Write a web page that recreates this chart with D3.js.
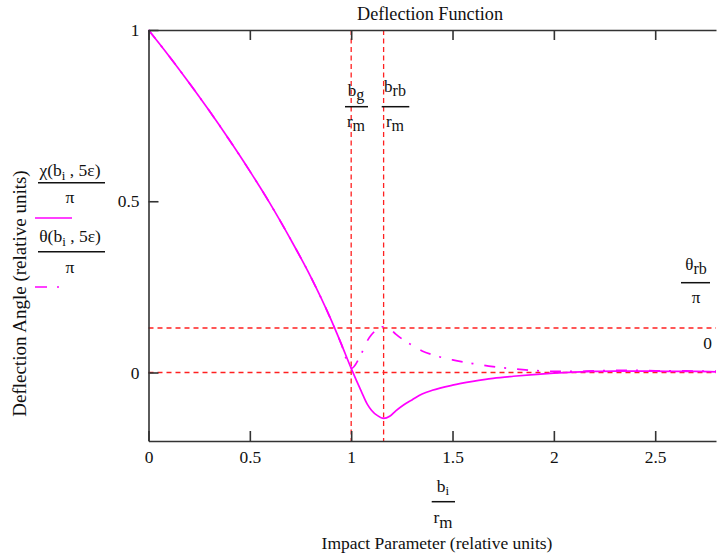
<!DOCTYPE html>
<html>
<head>
<meta charset="utf-8">
<script src="https://cdn.jsdelivr.net/npm/d3@7"></script>
<style>
  html, body { margin: 0; padding: 0; background: #fff; }
  svg { display: block; }
  text { font-family: "Liberation Serif", "Times New Roman", serif; fill: #111; }
</style>
</head>
<body>
<svg id="chart" width="717" height="559"></svg>
<script>
// ---- data ----
const bValues = [0, 0.1, 0.2, 0.3, 0.4, 0.5, 0.6, 0.7, 0.8, 0.9, 0.95, 1.0, 1.05, 1.08, 1.1, 1.13, 1.16, 1.19, 1.22, 1.26, 1.3, 1.35, 1.4, 1.5, 1.6, 1.7, 1.8, 1.9, 2.0, 2.1, 2.2, 2.3, 2.4, 2.5, 2.6, 2.7, 2.8];
const chiValues = [1.0, 0.925, 0.846, 0.764, 0.678, 0.588, 0.493, 0.39, 0.28, 0.155, 0.085, 0.012, -0.055, -0.093, -0.110, -0.126, -0.134, -0.128, -0.112, -0.094, -0.080, -0.063, -0.052, -0.037, -0.026, -0.017, -0.011, -0.006, -0.002, 0.001, 0.003, 0.004, 0.004, 0.004, 0.003, 0.003, 0.002];
const thetaValues = [1.0, 0.925, 0.846, 0.764, 0.678, 0.588, 0.493, 0.39, 0.28, 0.155, 0.085, 0.012, 0.055, 0.093, 0.110, 0.126, 0.134, 0.128, 0.112, 0.094, 0.080, 0.063, 0.052, 0.037, 0.026, 0.017, 0.011, 0.006, 0.003, 0.003, 0.005, 0.006, 0.006, 0.005, 0.005, 0.004, 0.004];
const xTickValues = [0, 0.5, 1, 1.5, 2, 2.5];
const xTickLabels = ["0", "0.5", "1", "1.5", "2", "2.5"];
const yTickValues = [0, 0.5, 1];
const yTickLabels = ["0", "0.5", "1"];
const xDomain = [0, 2.8];
const yDomain = [-0.2, 1];
const bG = 1.0;        // b_g / r_m
const bRb = 1.16;      // b_rb / r_m
const thetaRb = 0.13;  // theta_rb / pi
const zeroLine = 0;

// ---- layout ----
const svg = d3.select("#chart");
const x = d3.scaleLinear().domain(xDomain).range([148.5, 716]);
const y = d3.scaleLinear().domain(yDomain).range([441, 30]);

const MAG = "#ff00ff";
const RED = "#ff2020";
const AX = "#333";

// reference lines
const refG = svg.append("g");
[bG, bRb].forEach(v => {
  refG.append("line")
    .attr("x1", x(v)).attr("x2", x(v))
    .attr("y1", y(yDomain[1])).attr("y2", y(yDomain[0]))
    .attr("stroke", RED).attr("stroke-width", 1.3).attr("stroke-dasharray", "5,3.5");
});
[thetaRb, zeroLine].forEach(v => {
  refG.append("line")
    .attr("x1", x(xDomain[0])).attr("x2", x(xDomain[1]))
    .attr("y1", y(v)).attr("y2", y(v))
    .attr("stroke", RED).attr("stroke-width", 1.3).attr("stroke-dasharray", "5,4");
});

// curves
const chiData = bValues.map((b, i) => [b, chiValues[i]]);
const thetaData = bValues.map((b, i) => [b, thetaValues[i]]);
const line = d3.line().x(d => x(d[0])).y(d => y(d[1])).curve(d3.curveMonotoneX);

svg.append("path").datum(chiData).attr("d", line)
  .attr("fill", "none").attr("stroke", MAG).attr("stroke-width", 1.7);
svg.append("path").datum(thetaData).attr("d", line)
  .attr("fill", "none").attr("stroke", MAG).attr("stroke-width", 1.7)
  .attr("stroke-dasharray", "11,9,2,11");

// axes
const axisStyle = g => {
  g.select(".domain").attr("stroke", AX).attr("stroke-width", 1.6);
  g.selectAll(".tick line").attr("stroke", AX).attr("stroke-width", 1.6);
  g.selectAll(".tick text").attr("font-family", "Liberation Serif, serif").attr("font-size", 17.4).attr("fill", "#111");
};
svg.append("g").attr("transform", `translate(0,${y(yDomain[0])})`)
  .call(d3.axisBottom(x).tickValues(xTickValues).tickFormat((d, i) => xTickLabels[i]).tickSize(-10).tickSizeOuter(0).tickPadding(10))
  .call(axisStyle);
svg.append("g").attr("transform", `translate(0,${y(yDomain[1])})`)
  .call(d3.axisTop(x).tickValues(xTickValues).tickFormat("").tickSize(-10).tickSizeOuter(0))
  .call(axisStyle);
svg.append("g").attr("transform", `translate(${x(xDomain[0])},0)`)
  .call(d3.axisLeft(y).tickValues(yTickValues).tickFormat((d, i) => yTickLabels[i]).tickSize(-10).tickSizeOuter(0).tickPadding(9))
  .call(axisStyle);

// title
svg.append("text").attr("x", 430).attr("y", 19.5).attr("text-anchor", "middle")
  .attr("font-size", 18.2).text("Deflection Function");

// x-axis label
svg.append("text").attr("x", 437).attr("y", 549).attr("text-anchor", "middle")
  .attr("font-size", 17.5).text("Impact Parameter (relative units)");

// y-axis label
svg.append("text").attr("transform", "translate(26,293.5) rotate(-90)").attr("text-anchor", "middle")
  .attr("font-size", 19).text("Deflection Angle (relative units)");

// fraction helper
function frac(cx, numY, lineY, denY, x1, x2, numParts, denParts, fs) {
  const n = svg.append("text").attr("x", cx).attr("y", numY).attr("text-anchor", "middle").attr("font-size", fs);
  numParts.forEach(p => n.append("tspan").attr("dy", p.dy || 0).attr("font-size", p.fs || fs).text(p.t));
  svg.append("line").attr("x1", x1).attr("x2", x2).attr("y1", lineY).attr("y2", lineY)
    .attr("stroke", "#111").attr("stroke-width", 1.5);
  const d = svg.append("text").attr("x", cx).attr("y", denY).attr("text-anchor", "middle").attr("font-size", fs);
  denParts.forEach(p => d.append("tspan").attr("dy", p.dy || 0).attr("font-size", p.fs || fs).text(p.t));
}

// legend (left)
frac(70, 176, 182.7, 203, 38, 105,
  [{t: "χ(b"}, {t: "i", dy: 4, fs: 13}, {t: " , 5ε)", dy: -4}], [{t: "π"}], 17.5);
svg.append("line").attr("x1", 35).attr("x2", 72).attr("y1", 218).attr("y2", 218)
  .attr("stroke", MAG).attr("stroke-width", 1.7);
frac(70, 242, 251.7, 273, 38, 105,
  [{t: "θ(b"}, {t: "i", dy: 4, fs: 13}, {t: " , 5ε)", dy: -4}], [{t: "π"}], 17.5);
svg.append("line").attr("x1", 35).attr("x2", 70).attr("y1", 287).attr("y2", 287)
  .attr("stroke", MAG).attr("stroke-width", 1.7).attr("stroke-dasharray", "12,10,2,20");

// b_g / r_m and b_rb / r_m
frac(356, 96, 106.7, 127, 345, 368,
  [{t: "b"}, {t: "g", dy: 4, fs: 16}], [{t: "r"}, {t: "m", dy: 4, fs: 16}], 17);
frac(395, 92, 106.7, 127, 381.7, 409.3,
  [{t: "b"}, {t: "rb", dy: 4, fs: 16}], [{t: "r"}, {t: "m", dy: 4, fs: 16}], 17);

// theta_rb / pi (right)
frac(696, 270, 282.7, 303, 681, 710,
  [{t: "θ"}, {t: "rb", dy: 4, fs: 16}], [{t: "π"}], 17);
svg.append("text").attr("x", 712).attr("y", 349).attr("text-anchor", "end").attr("font-size", 17.4).text("0");

// b_i / r_m under x axis
frac(443, 492, 501.7, 523, 431.7, 455,
  [{t: "b"}, {t: "i", dy: 3, fs: 13}], [{t: "r"}, {t: "m", dy: 5, fs: 17}], 17.5);
</script>
</body>
</html>
